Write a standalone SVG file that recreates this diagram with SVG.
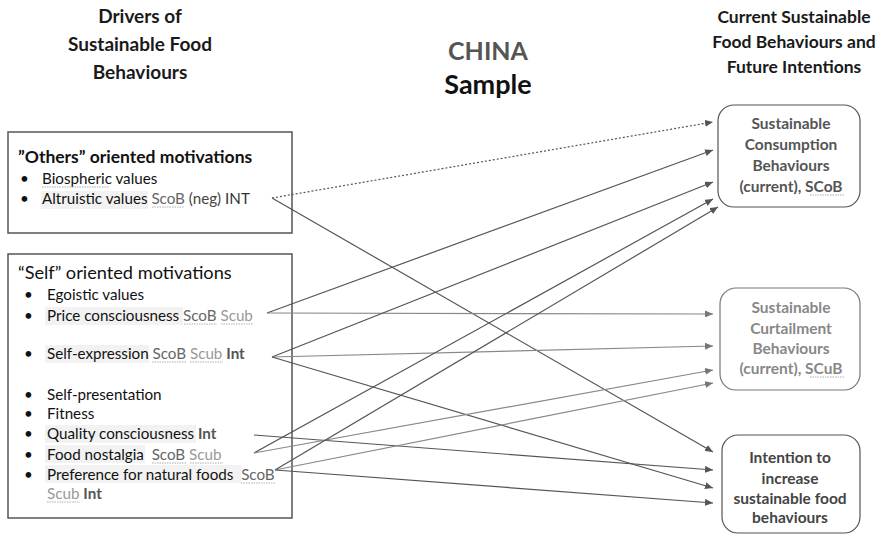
<svg xmlns="http://www.w3.org/2000/svg" width="876" height="537" viewBox="0 0 876 537">
<defs>
<marker id="ah" viewBox="0 0 8 7" refX="8" refY="3.5" markerWidth="8" markerHeight="7" markerUnits="userSpaceOnUse" orient="auto"><path d="M0,0 L8,3.5 L0,7 z" fill="#555"/></marker>
<marker id="ahl" viewBox="0 0 8 7" refX="8" refY="3.5" markerWidth="8" markerHeight="7" markerUnits="userSpaceOnUse" orient="auto"><path d="M0,0 L8,3.5 L0,7 z" fill="#777"/></marker>
</defs>
<style>
text{font-family:Lato,"Liberation Sans",sans-serif;}
.title{font-size:17.5px;font-weight:bold;fill:#1a1a1a;text-anchor:middle;}
.item{font-size:15.2px;fill:#111;}
.sb{fill:#666;}
.sc{fill:#999;}
.int{font-weight:bold;fill:#555;}
.box{fill:none;stroke:#555;stroke-width:1.5;}
.rbox{fill:#fff;stroke:#555;stroke-width:1.2;}
.rt{font-size:15.5px;font-weight:bold;text-anchor:middle;}
.hl{fill:#f2f2f2;}
.wavy{fill:none;stroke:#999;stroke-width:0.8;stroke-dasharray:1.5,1;}
.c{fill:none;stroke:#555;stroke-width:1.2;marker-end:url(#ah);}
.cl{fill:none;stroke:#888;stroke-width:1.2;marker-end:url(#ahl);}
</style>
<rect width="876" height="537" fill="#fff"/>

<g id="title-left">
<text class="title" x="140" y="23" style="font-size:19px">Drivers of</text>
<text class="title" x="140" y="51" style="font-size:19px">Sustainable Food</text>
<text class="title" x="140" y="79" style="font-size:19px">Behaviours</text>
</g>
<g id="title-center">
<text x="488" y="60" style="font-size:25px;font-weight:bold;fill:#555;text-anchor:middle">CHINA</text>
<text x="488" y="94" style="font-size:27px;font-weight:bold;fill:#111;text-anchor:middle">Sample</text>
</g>
<g id="title-right">
<text class="title" x="794" y="23">Current Sustainable</text>
<text class="title" x="794" y="48">Food Behaviours and</text>
<text class="title" x="794" y="73">Future Intentions</text>
</g>

<g id="others">
<rect class="box" x="8" y="132" width="284" height="101"/>
<rect class="hl" x="41" y="191" width="107" height="18"/>
<text x="18" y="163" style="font-size:17.5px;font-weight:bold;fill:#111">”Others” oriented motivations</text>
<text class="item" x="20" y="184">•</text>
<text class="item" x="42" y="184">Biospheric values</text>
<path class="wavy" d="M42,187 H109"/>
<text class="item" x="20" y="204">•</text>
<text class="item" x="42" y="204">Altruistic values <tspan class="sb">ScoB</tspan> <tspan fill="#444">(neg)</tspan> <tspan fill="#333">INT</tspan></text>
<path class="wavy" d="M152,207 H184"/>
</g>

<g id="self">
<rect class="box" x="8" y="254" width="284" height="264"/>
<rect class="hl" x="45" y="307" width="138" height="18"/>
<rect class="hl" x="45" y="345" width="104" height="18"/>
<rect class="hl" x="45" y="425" width="151" height="18"/>
<rect class="hl" x="45" y="445" width="100" height="18"/>
<rect class="hl" x="45" y="465" width="196" height="18"/>
<text x="18" y="279" style="font-size:18.2px;fill:#111">“Self” oriented motivations</text>
<text class="item" x="24" y="300">•</text>
<text class="item" x="47" y="300">Egoistic values</text>
<text class="item" x="24" y="321">•</text>
<text class="item" x="47" y="321">Price consciousness <tspan class="sb">ScoB</tspan> <tspan class="sc">Scub</tspan></text>
<path class="wavy" d="M184,324 H217 M221,324 H253"/>
<text class="item" x="24" y="359">•</text>
<text class="item" x="47" y="359">Self-expression <tspan class="sb">ScoB</tspan> <tspan class="sc">Scub</tspan> <tspan class="int">Int</tspan></text>
<path class="wavy" d="M152,362 H186 M190,362 H223"/>
<text class="item" x="24" y="400">•</text>
<text class="item" x="47" y="400">Self-presentation</text>
<text class="item" x="24" y="419">•</text>
<text class="item" x="47" y="419">Fitness</text>
<text class="item" x="24" y="439">•</text>
<text class="item" x="47" y="439">Quality consciousness <tspan class="int">Int</tspan></text>
<text class="item" x="24" y="460">•</text>
<text class="item" x="47" y="460">Food nostalgia&#160; <tspan class="sb">ScoB</tspan> <tspan class="sc">Scub</tspan></text>
<path class="wavy" d="M152,463 H186 M190,463 H223"/>
<text class="item" x="24" y="480">•</text>
<text class="item" x="47" y="480">Preference for natural foods&#160; <tspan class="sb">ScoB</tspan></text>
<path class="wavy" d="M241,483 H275"/>
<text class="item" x="47" y="499"><tspan class="sc">Scub</tspan> <tspan class="int">Int</tspan></text>
<path class="wavy" d="M47,502 H80"/>
</g>

<g id="connectors">
<path class="c" d="M272,198 L713,122" stroke-dasharray="2,2"/>
<path class="c" d="M272,198 L713,452"/>
<path class="c" d="M267,313 L713,150"/>
<path class="cl" d="M267,313 L713,314"/>
<path class="c" d="M272,357 L713,182"/>
<path class="cl" d="M272,357 L713,346"/>
<path class="c" d="M272,357 L713,488"/>
<path class="c" d="M254,435 L713,470"/>
<path class="c" d="M254,453 L713,199"/>
<path class="cl" d="M254,453 L713,370"/>
<path class="c" d="M275,470 L718,207"/>
<path class="cl" d="M275,470 L713,383"/>
<path class="c" d="M275,470 L713,503"/>
</g>

<g id="scob">
<rect class="rbox" x="718" y="105" width="142" height="102" rx="16"/>
<text class="rt" x="791" y="129" fill="#555">Sustainable</text>
<text class="rt" x="791" y="150" fill="#555">Consumption</text>
<text class="rt" x="791" y="171" fill="#555">Behaviours</text>
<text class="rt" x="791" y="192" fill="#555">(current), SCoB</text>
<path class="wavy" d="M810,195 H845"/>
</g>
<g id="scub">
<rect class="rbox" x="720" y="288" width="140" height="102" rx="16" style="stroke:#777"/>
<text class="rt" x="791" y="313" fill="#888">Sustainable</text>
<text class="rt" x="791" y="334" fill="#888">Curtailment</text>
<text class="rt" x="791" y="354" fill="#888">Behaviours</text>
<text class="rt" x="791" y="374" fill="#888">(current), SCuB</text>
<path class="wavy" d="M810,377 H844"/>
</g>
<g id="intention">
<rect class="rbox" x="722" y="435" width="138" height="98" rx="16"/>
<text class="rt" x="790" y="463" fill="#444">Intention to</text>
<text class="rt" x="790" y="484" fill="#444">increase</text>
<text class="rt" x="790" y="504" fill="#444">sustainable food</text>
<text class="rt" x="790" y="523" fill="#444">behaviours</text>
</g>
</svg>
